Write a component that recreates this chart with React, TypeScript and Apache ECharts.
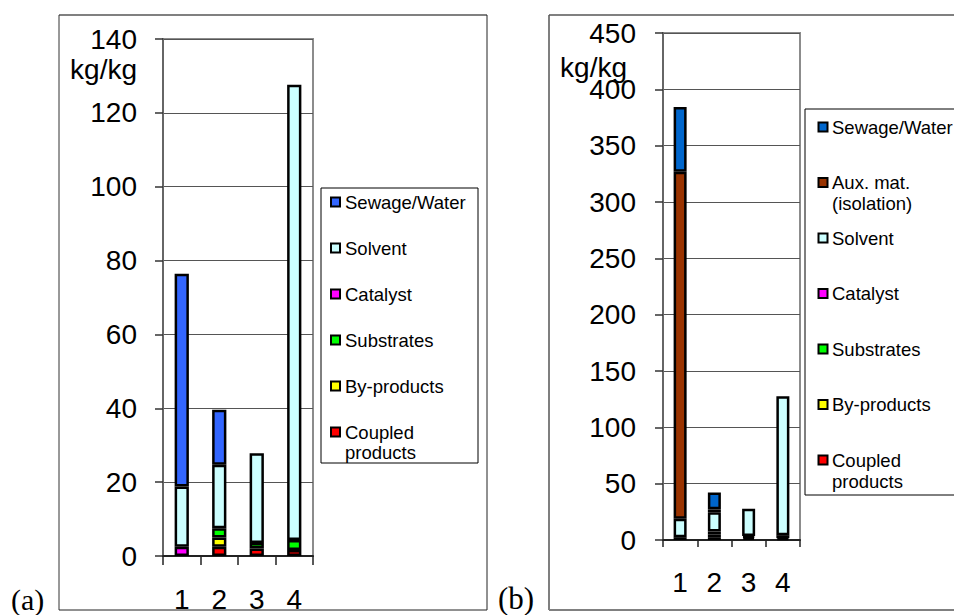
import React, { useEffect, useRef } from 'react';
import * as echarts from 'echarts';

// ---- data ----
const categories = ['1', '2', '3', '4'];
const coupledProducts = [null, 2.5, 2.0, 1.6];
const byProducts = [null, 2.5, null, null];
const substrates = [null, 2.5, 1.5, 2.7];
const catalyst = [2.5, null, null, null];
const solvent = [16.3, 17.2, 24.3, 123.3];
const sewageWater = [57.6, 14.9, null, null];
const auxIsolation = [308, 2.5, null, null];

const yAxisA = { min: 0, max: 140, interval: 20 };
const yAxisB = { min: 0, max: 450, interval: 50 };
const unitLabel = 'kg/kg';
const panelLabels = ['(a)', '(b)'];

// ---- styles ----
const SANS = '"Liberation Sans", Arial, sans-serif';
const SERIF = '"Liberation Serif", "Times New Roman", serif';
const colors = {
  coupled: '#FF0000',
  by: '#FFFF00',
  substrates: '#00FF00',
  catalyst: '#FF00FF',
  solvent: '#CCFFFF',
  aux: '#993300',
  sewageA: '#3366FF',
  sewageB: '#0066CC',
};

const seriesDefsA = [
  { name: 'Coupled\nproducts', data: coupledProducts, color: colors.coupled },
  { name: 'By-products', data: byProducts, color: colors.by },
  { name: 'Substrates', data: substrates, color: colors.substrates },
  { name: 'Catalyst', data: catalyst, color: colors.catalyst },
  { name: 'Solvent', data: solvent, color: colors.solvent },
  { name: 'Sewage/Water', data: sewageWater, color: colors.sewageA },
];
const seriesDefsB = [
  { name: 'Coupled\nproducts', data: coupledProducts, color: colors.coupled },
  { name: 'By-products', data: byProducts, color: colors.by },
  { name: 'Substrates', data: substrates, color: colors.substrates },
  { name: 'Catalyst', data: catalyst, color: colors.catalyst },
  { name: 'Solvent', data: solvent, color: colors.solvent },
  { name: 'Aux. mat.\n(isolation)', data: auxIsolation, color: colors.aux },
  { name: 'Sewage/Water', data: sewageWater, color: colors.sewageB },
];

function makeLegend(defs: any[], box: any, firstY: number, step: number, markerX: number, textX: number, lineH: number) {
  const items: any[] = [
    {
      type: 'rect',
      shape: { x: box.x, y: box.y, width: box.w, height: box.h },
      style: { fill: '#fff', stroke: '#000', lineWidth: 1 },
    },
  ];
  const ordered = [...defs].reverse();
  ordered.forEach((d, i) => {
    const cy = firstY + i * step;
    items.push({
      type: 'rect',
      shape: { x: markerX, y: cy - 4.5, width: 9, height: 9 },
      style: { fill: d.color, stroke: '#000', lineWidth: 2 },
    });
    items.push({
      type: 'text',
      x: textX,
      y: cy - lineH / 2,
      style: {
        text: d.name,
        fill: '#000',
        fontSize: 18.5,
        fontFamily: SANS,
        lineHeight: lineH,
        align: 'left',
        verticalAlign: 'top',
      },
    });
  });
  return items;
}

export default function App() {
  const ref = useRef<HTMLDivElement>(null);
  useEffect(() => {
    if (!ref.current) return;
    const chart = echarts.init(ref.current, null, { renderer: 'svg' });

    const grids = [
      { left: 163, top: 39, width: 150, height: 517 },
      { left: 663, top: 33, width: 137, height: 507 },
    ].map((g) => ({ ...g, show: true, borderColor: '#8c8c8c', borderWidth: 2, backgroundColor: 'transparent' }));

    const xAxes = [0, 1].map((i) => ({
      type: 'category',
      gridIndex: i,
      data: categories,
      boundaryGap: true,
      axisLine: { show: true, lineStyle: { color: '#222', width: 2 } },
      axisTick: { show: true, length: i === 0 ? 9 : 7, inside: false, lineStyle: { color: '#222', width: 1.5 } },
      axisLabel: { color: '#000', fontSize: 28, fontFamily: SANS, margin: i === 0 ? 29 : 28 },
      splitLine: { show: false },
    }));

    const yAxes = [yAxisA, yAxisB].map((y, i) => ({
      type: 'value',
      gridIndex: i,
      min: y.min,
      max: y.max,
      interval: y.interval,
      axisLine: { show: true, lineStyle: { color: '#666', width: 2 } },
      axisTick: { show: true, length: 8, inside: false, lineStyle: { color: '#333', width: 1.5 } },
      axisLabel: { color: '#000', fontSize: 28, fontFamily: SANS, margin: i === 0 ? 26 : 27, lineHeight: 26 },
      splitLine: { show: true, lineStyle: { color: '#555', width: 1.2 } },
    }));

    const mkSeries = (defs: any[], idx: number) =>
      defs.map((d) => ({
        type: 'bar',
        name: d.name,
        data: d.data,
        stack: 'stack' + idx,
        xAxisIndex: idx,
        yAxisIndex: idx,
        barWidth: '38%',
        itemStyle: { color: d.color, borderColor: '#000', borderWidth: 2.5 },
        emphasis: { disabled: true },
      }));

    const graphics: any[] = [
      // panel frames
      { type: 'line', shape: { x1: 59, y1: 15, x2: 487, y2: 15 }, style: { stroke: '#808080', lineWidth: 2 } },
      { type: 'line', shape: { x1: 59, y1: 15, x2: 59, y2: 610 }, style: { stroke: '#333', lineWidth: 1 } },
      { type: 'line', shape: { x1: 487, y1: 15, x2: 487, y2: 610 }, style: { stroke: '#222', lineWidth: 1 } },
      { type: 'line', shape: { x1: 59, y1: 610, x2: 487, y2: 610 }, style: { stroke: '#222', lineWidth: 1 } },
      { type: 'line', shape: { x1: 549, y1: 15, x2: 960, y2: 15 }, style: { stroke: '#808080', lineWidth: 2 } },
      { type: 'line', shape: { x1: 549, y1: 15, x2: 549, y2: 610 }, style: { stroke: '#555', lineWidth: 1.5 } },
      { type: 'line', shape: { x1: 549, y1: 610, x2: 960, y2: 610 }, style: { stroke: '#808080', lineWidth: 2 } },
      // unit labels
      {
        type: 'text', x: 137, y: 69,
        style: { text: unitLabel, fill: '#000', fontSize: 28, lineHeight: 22, fontFamily: SANS, align: 'right', verticalAlign: 'middle' },
      },
      {
        type: 'text', x: 627, y: 67,
        style: { text: unitLabel, fill: '#000', fontSize: 28, lineHeight: 20, fontFamily: SANS, align: 'right', verticalAlign: 'middle' },
      },
      // panel labels
      {
        type: 'text', x: 11, y: 599,
        style: { text: panelLabels[0], fill: '#000', fontSize: 30, lineHeight: 28, fontFamily: SERIF, align: 'left', verticalAlign: 'middle' },
      },
      {
        type: 'text', x: 498, y: 598,
        style: { text: panelLabels[1], fill: '#000', fontSize: 31, lineHeight: 28, fontFamily: SERIF, align: 'left', verticalAlign: 'middle' },
      },
      ...makeLegend(seriesDefsA, { x: 321, y: 188, w: 157, h: 275 }, 202, 46, 331, 345, 20),
      ...makeLegend(seriesDefsB, { x: 805, y: 109, w: 160, h: 386 }, 127, 55.5, 818.5, 832, 21),
    ];

    chart.setOption({
      animation: false,
      backgroundColor: '#fff',
      grid: grids,
      xAxis: xAxes,
      yAxis: yAxes,
      series: [...mkSeries(seriesDefsA, 0), ...mkSeries(seriesDefsB, 1)],
      graphic: { elements: graphics },
    });
    return () => chart.dispose();
  }, []);

  return (
    <div
      ref={ref}
      style={{ position: 'absolute', left: 0, top: 0, width: 954, height: 615, background: '#fff' }}
    />
  );
}
